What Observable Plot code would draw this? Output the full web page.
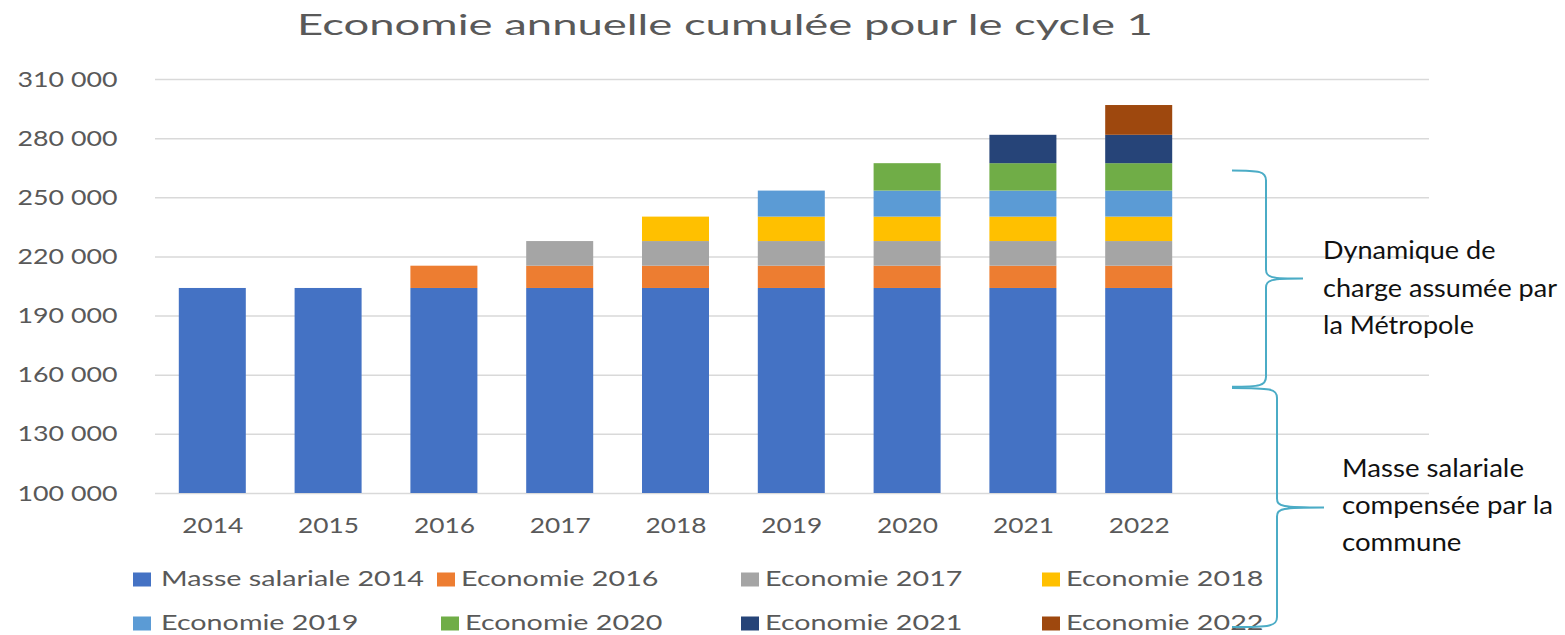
<!DOCTYPE html>
<html>
<head>
<meta charset="utf-8">
<script src="https://cdn.jsdelivr.net/npm/d3@7"></script>
<script src="https://cdn.jsdelivr.net/npm/@observablehq/plot@0.6"></script>
<style>
  html, body { margin: 0; padding: 0; background: #fff; }
  #root { position: relative; width: 1565px; height: 635px; overflow: hidden; background: #fff; font-family: Lato, "Open Sans", sans-serif; }
  #root svg { display: block; }
  #overlay { position: absolute; left: 0; top: 0; pointer-events: none; }
</style>
</head>
<body>
<div id="root"></div>
<script>
// ---------- data ----------
const years = ["2014", "2015", "2016", "2017", "2018", "2019", "2020", "2021", "2022"];
const series = ["Masse salariale 2014", "Economie 2016", "Economie 2017", "Economie 2018",
                "Economie 2019", "Economie 2020", "Economie 2021", "Economie 2022"];
const colors = ["#4472C4", "#ED7D31", "#A5A5A5", "#FFC000", "#5B9BD5", "#70AD47", "#264478", "#9E480E"];

const masseSalariale2014 = [204000, 204000, 204000, 204000, 204000, 204000, 204000, 204000, 204000];
const economie2016 = [0, 0, 11300, 11300, 11300, 11300, 11300, 11300, 11300];
const economie2017 = [0, 0, 0, 12500, 12500, 12500, 12500, 12500, 12500];
const economie2018 = [0, 0, 0, 0, 12400, 12400, 12400, 12400, 12400];
const economie2019 = [0, 0, 0, 0, 0, 13200, 13200, 13200, 13200];
const economie2020 = [0, 0, 0, 0, 0, 0, 13900, 13900, 13900];
const economie2021 = [0, 0, 0, 0, 0, 0, 0, 14400, 14400];
const economie2022 = [0, 0, 0, 0, 0, 0, 0, 0, 15100];

const yTicks = [100000, 130000, 160000, 190000, 220000, 250000, 280000, 310000];

const title = "Economie annuelle cumulée pour le cycle 1";
const noteMetropole = ["Dynamique de", "charge assumée par", "la Métropole"];
const noteCommune = ["Masse salariale", "compensée par la", "commune"];
// value ranges spanned by the two braces
const braceMetropole = [263600, 153900];
const braceCommune = [153300, 32000];

// ---------- table ----------
const seriesValues = [masseSalariale2014, economie2016, economie2017, economie2018,
                      economie2019, economie2020, economie2021, economie2022];
const rows = [];
series.forEach((s, i) => {
  years.forEach((y, j) => {
    const v = seriesValues[i][j];
    if (v > 0) rows.push({ year: y, series: s, value: v });
  });
});

const fmt = (d) => d3.format(",")(d).replace(/,/g, " ");

// ---------- layout ----------
const W = 1565, H = 635;
const titleH = 55, chartH = 490, legendH = H - titleH - chartH;
const gray = "#595959";
const font = "Lato, 'Open Sans', sans-serif";

const root = d3.select("#root");

// title
const titleSvg = root.append("svg").attr("width", W).attr("height", titleH);
const titleText = titleSvg.append("text")
  .attr("x", 725).attr("y", 35)
  .attr("text-anchor", "middle")
  .attr("font-family", font).attr("font-size", 29)
  .attr("fill", gray)
  .text(title);

// chart
const plot = Plot.plot({
  width: W,
  height: chartH,
  marginTop: 24,
  marginBottom: 52,
  marginLeft: 155,
  marginRight: 136,
  style: { fontFamily: font, fontSize: "22px", color: gray, background: "white", overflow: "visible" },
  x: { domain: years, range: [130, 1221], padding: 0.4214, round: false, label: null, tickSize: 0, tickPadding: 24 },
  y: { domain: [100000, 310000], ticks: yTicks, tickFormat: fmt, label: null, tickSize: 0, tickPadding: 38 },
  color: { domain: series, range: colors },
  marks: [
    Plot.ruleY(yTicks, { stroke: "#d9d9d9", strokeWidth: 1.5 }),
    Plot.barY(rows, { x: "year", y: "value", fill: "series", order: series, clip: true })
  ]
});
root.node().appendChild(plot);

// legend
const legendSvg = root.append("svg").attr("width", W).attr("height", legendH);
const legendX = [[133, 437, 741, 1042], [133, 441, 741, 1042]];
const legendBase = [41, 85];
const legendTexts = [];
series.forEach((s, i) => {
  const r = Math.floor(i / 4), c = i % 4;
  const x = legendX[r][c], b = legendBase[r];
  legendSvg.append("rect").attr("x", x).attr("y", b - 13.5).attr("width", 18).attr("height", 14).attr("fill", colors[i]);
  const t = legendSvg.append("text")
    .attr("x", x + (c === 0 ? 28 : 24)).attr("y", b)
    .attr("font-family", font).attr("font-size", 22)
    .attr("fill", gray).text(s);
  legendTexts.push(t.node());
});

// overlay: braces + notes
const yScale = plot.scale("y");
const Y = (v) => yScale.apply(v) + titleH;
const overlay = root.append("svg").attr("id", "overlay").attr("width", W).attr("height", H);

function brace(x0, xv, xt, y0, y1) {
  const ym = (y0 + y1) / 2;
  return `M${x0},${y0} C${xv - 6},${y0} ${xv},${y0 + 1} ${xv},${y0 + 10}` +
         ` L${xv},${ym - 9} C${xv},${ym - 1} ${xv + 5},${ym} ${xt},${ym}` +
         ` C${xv + 5},${ym} ${xv},${ym + 1} ${xv},${ym + 9}` +
         ` L${xv},${y1 - 10} C${xv},${y1 - 1} ${xv - 6},${y1} ${x0},${y1}`;
}
const braceColor = "#4BACC6";
overlay.append("path").attr("d", brace(1232, 1266, 1303, Y(braceMetropole[0]), Y(braceMetropole[1])))
  .attr("fill", "none").attr("stroke", braceColor).attr("stroke-width", 2);
overlay.append("path").attr("d", brace(1232, 1277, 1324, Y(braceCommune[0]), Y(braceCommune[1])))
  .attr("fill", "none").attr("stroke", braceColor).attr("stroke-width", 2);

const noteNodes1 = noteMetropole.map((line, i) => overlay.append("text")
  .attr("x", 1323).attr("y", 259 + i * 37.5)
  .attr("font-family", font).attr("font-size", 25).attr("fill", "#111")
  .text(line).node());
const noteNodes2 = noteCommune.map((line, i) => overlay.append("text")
  .attr("x", 1342).attr("y", 477 + i * 37)
  .attr("font-family", font).attr("font-size", 25).attr("fill", "#111")
  .text(line).node());

// ---------- horizontal stretch to match the reference's wide lettering ----------
function fit(nodes, ref, target) {
  const f = target / ref.getComputedTextLength();
  nodes.forEach((n) => {
    const w = n.getComputedTextLength();
    n.setAttribute("textLength", (w * f).toFixed(2));
    n.setAttribute("lengthAdjust", "spacingAndGlyphs");
  });
}
fit([titleText.node()], titleText.node(), 856);
const plotTexts = Array.from(plot.querySelectorAll("text"));
const xTexts = plotTexts.filter((t) => /^\d{4}$/.test(t.textContent.trim()));
const yTexts = plotTexts.filter((t) => /000$/.test(t.textContent.trim()));
const yRef = yTexts.find((t) => t.textContent.trim().startsWith("310")) || yTexts[0];
if (yRef) fit(yTexts, yRef, 100);
if (xTexts.length) fit(xTexts, xTexts[0], 61);
fit(legendTexts, legendTexts[0], 263);
fit(noteNodes1, noteNodes1[1], 234);
fit(noteNodes2, noteNodes2[1], 211);
</script>
</body>
</html>
